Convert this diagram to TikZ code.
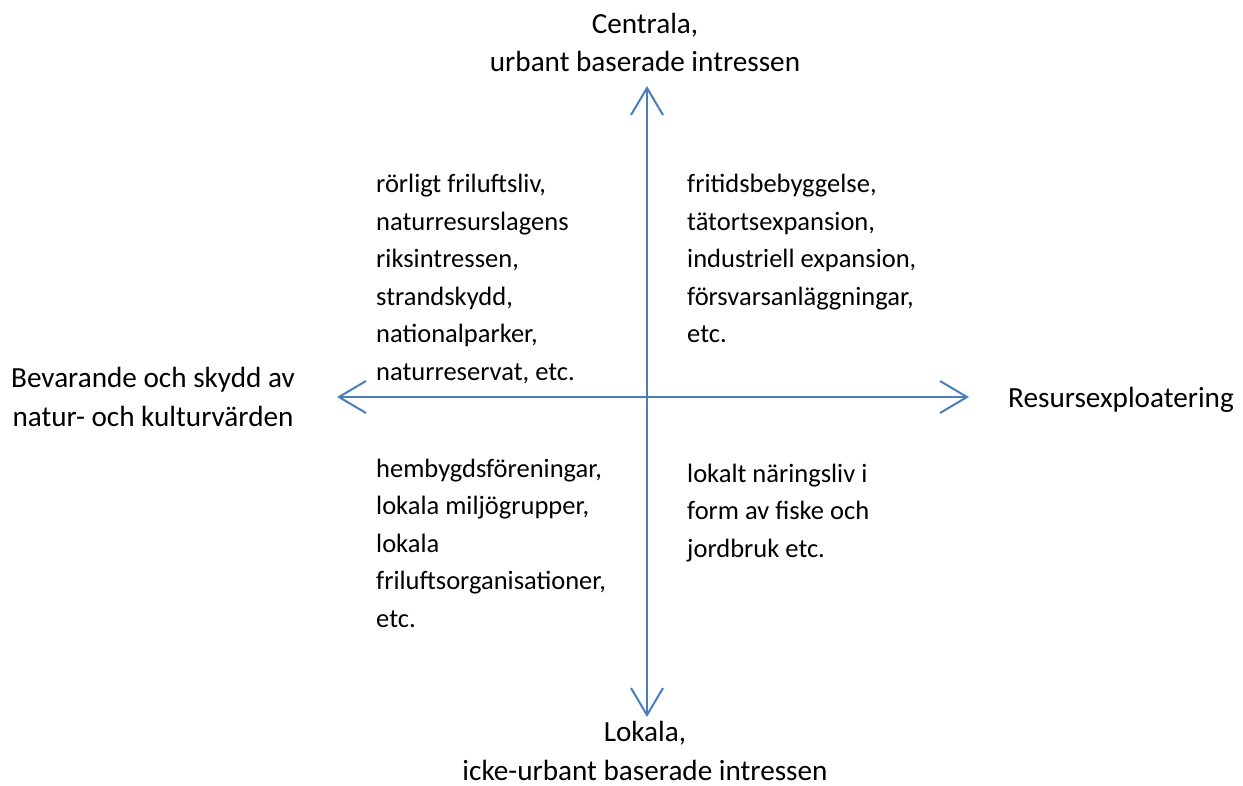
\documentclass[tikz,border=0pt]{standalone}
\usepackage{fontspec}
\setmainfont{Carlito}
\usepackage{xcolor}
\usepackage{tikz}
\usetikzlibrary{arrows.meta}
\definecolor{ink}{HTML}{000000}
\definecolor{axis}{HTML}{4A7EBB}
\tikzset{
  axisline/.style={draw=axis, line width=2.8pt, -{Straight Barb[length=27pt,width=32pt,line width=2pt]}},
  t/.style={inner sep=0pt, font=\fontsize{26.5}{37.5}\selectfont, text=ink},
  tl/.style={t, anchor=base west, align=left},
  ta/.style={t, font=\fontsize{29.2}{38.5}\selectfont, anchor=base, align=center},
  tal/.style={ta, anchor=base west},
}
\begin{document}
\begin{tikzpicture}[x=1pt, y=-1pt]
  \useasboundingbox (0,0) rectangle (1243,786);

  % axes, crossing at o
  \coordinate (o) at (647,397);
  \coordinate (up) at (647,86);
  \coordinate (down) at (647,717);
  \coordinate (west) at (337,397);
  \coordinate (east) at (969,397);
  \draw[axisline] (o) -- (up);
  \draw[axisline] (o) -- (down);
  \draw[axisline] (o) -- (west);
  \draw[axisline] (o) -- (east);

  % axis ends (base = last line)
  \node[ta] (central) at (645,72) {Centrala,\\urbant baserade intressen};
  \node[ta] (local) at (645,780) {Lokala,\\icke-urbant baserade intressen};
  \node[ta] (protect) at (153,426) {Bevarande och skydd av\\natur- och kulturvärden};
  \node[tal] (exploit) at (1008,407) {Resursexploatering};

  % quadrants
  \node[tl] (nw) at (376,380.5) {rörligt friluftsliv,\\naturresurslagens\\riksintressen,\\strandskydd,\\nationalparker,\\naturreservat, etc.};
  \node[tl] (ne) at (687,343) {fritidsbebyggelse,\\tätortsexpansion,\\industriell expansion,\\försvarsanläggningar,\\etc.};
  \node[tl] (sw) at (376,627) {hembygdsföreningar,\\lokala miljögrupper,\\lokala\\friluftsorganisationer,\\etc.};
  \node[tl] (se) at (687,557) {lokalt näringsliv i\\form av fiske och\\jordbruk etc.};
\end{tikzpicture}
\end{document}
